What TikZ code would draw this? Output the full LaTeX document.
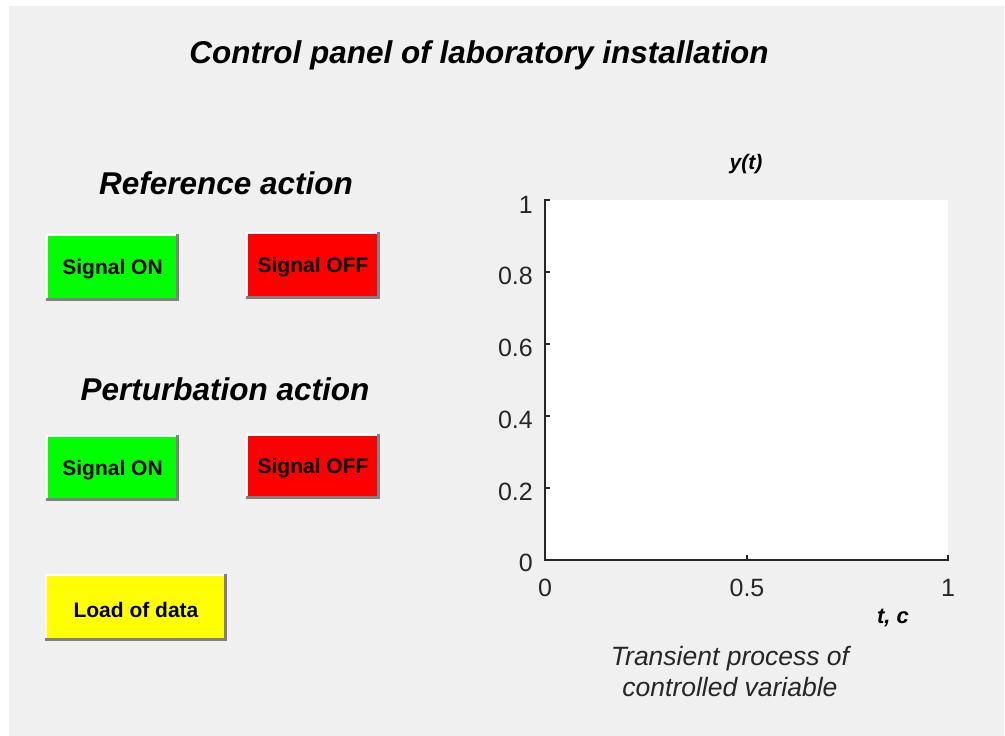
\documentclass[tikz,border=0pt]{standalone}
\usepackage{fontspec}
\setmainfont{Liberation Sans}
\begin{document}
\begin{tikzpicture}[x=1pt,y=-1pt,
  panelbg/.style={fill={rgb,255:red,240;green,240;blue,240}, draw=none},
  heading/.style={font=\fontsize{31.5}{34}\selectfont\bfseries\itshape, inner sep=0pt},
  btnlabel/.style={font=\fontsize{21}{23}\selectfont\bfseries, inner sep=0pt},
  ticklabel/.style={font=\fontsize{25}{27}\selectfont, text=axisgrey, inner sep=0pt},
  axisline/.style={draw=axisgrey, line width=1.6pt},
]
\definecolor{axisgrey}{RGB}{38,38,38}
\definecolor{btngreen}{RGB}{0,255,0}
\definecolor{btnred}{RGB}{255,0,0}
\definecolor{btnyellow}{RGB}{255,255,0}
\definecolor{btnshadow}{RGB}{128,128,128}

% page and panel background
\useasboundingbox (0,0) rectangle (1005,736);
\fill[white] (0,0) rectangle (1005,736);
\path[panelbg] (9,6) rectangle (1004,736);

% raised push button: #1 name, #2 colour, #3 x0, #4 y0, #5 x1, #6 y1, #7 label
\newcommand{\pushbtn}[7]{%
  \fill[#2] (#3,#4) rectangle (#5,#6);
  \draw[white, line width=1.5pt] (#3+0.75,#6) -- (#3+0.75,#4+0.75) -- (#5,#4+0.75);
  \draw[btnshadow, line width=3pt] (#3,#6-1.5) -- (#5-1.5,#6-1.5) -- (#5-1.5,#4);
  \node[btnlabel] (#1) at ({(#3+#5)/2},{(#4+#6)/2+2}) {#7};
}

% title and section headings
\node[heading] (title) at (479,55) {Control panel of laboratory installation};
\node[heading] (refhead) at (226,183) {Reference action};
\node[heading] (perthead) at (225,389) {Perturbation action};

% buttons
\pushbtn{refon}{btngreen}{46}{234}{179}{301}{Signal ON}
\pushbtn{refoff}{btnred}{246}{232}{380}{299}{Signal OFF}
\pushbtn{perton}{btngreen}{46}{435}{179}{501}{Signal ON}
\pushbtn{pertoff}{btnred}{246}{434}{380}{499}{Signal OFF}
\pushbtn{load}{btnyellow}{45}{574}{227}{641}{Load of data}

% axes
\fill[white] (545,200) rectangle (948,560);
\draw[axisline] (550,200) -- (545,200) -- (545,560) -- (948,560) -- (948,555);
\foreach \yy in {272,344,416,488} \draw[axisline] (545,\yy) -- (550,\yy);
\draw[axisline] (747,560) -- (747,555);

% tick labels
\node[ticklabel, anchor=east] (y10) at (533,205) {1};
\node[ticklabel, anchor=east] (y08) at (533,276) {0.8};
\node[ticklabel, anchor=east] (y06) at (533,348) {0.6};
\node[ticklabel, anchor=east] (y04) at (533,420) {0.4};
\node[ticklabel, anchor=east] (y02) at (533,492) {0.2};
\node[ticklabel, anchor=east] (y00) at (533,563) {0};
\node[ticklabel] (x00) at (545,588) {0};
\node[ticklabel] (x05) at (747,588) {0.5};
\node[ticklabel] (x10) at (948,588) {1};

% axis titles and caption
\node[font=\fontsize{21}{23}\selectfont\bfseries\itshape, inner sep=0pt] (ylab) at (746,164) {y(t)};
\node[font=\fontsize{22}{24}\selectfont\bfseries\itshape, inner sep=0pt] (xlab) at (893,618) {t, c};
\node[font=\fontsize{26.5}{31}\selectfont\itshape, text=axisgrey, align=center, inner sep=0pt] (caption) at (730,672)
  {Transient process of\\controlled variable};
\end{tikzpicture}
\end{document}
